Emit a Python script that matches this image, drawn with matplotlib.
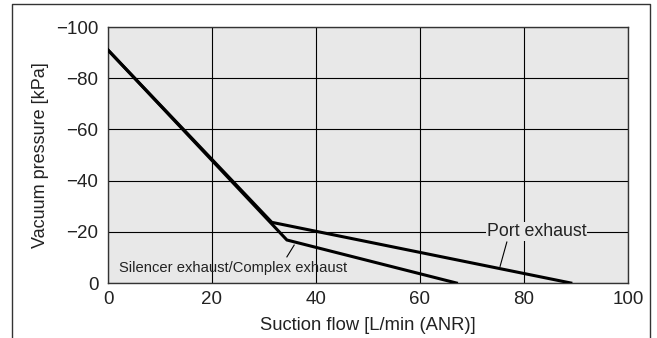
import matplotlib
matplotlib.use("Agg")
import matplotlib.pyplot as plt
from matplotlib.lines import Line2D

plt.rcParams['font.family'] = ['Liberation Sans', 'DejaVu Sans']

# curve data (suction flow L/min, vacuum pressure kPa)
port_flow = [0, 31.5, 89]
port_pressure = [-91, -23.7, 0]
silencer_flow = [0, 34.4, 67]
silencer_pressure = [-91, -16.8, 0]

x_ticks = [0, 20, 40, 60, 80, 100]
y_ticks = [0, -20, -40, -60, -80, -100]

fig = plt.figure(figsize=(6.57, 3.38), dpi=100)
ax = fig.add_axes([108 / 657, 1 - 283 / 338, 520 / 657, 256 / 338])
ax.set_facecolor('#e8e8e8')

ax.plot(port_flow, port_pressure, color='black', lw=2.2, solid_joinstyle='miter', zorder=3)
ax.plot(silencer_flow, silencer_pressure, color='black', lw=2.2, solid_joinstyle='miter', zorder=3)

ax.set_xlim(0, 100)
ax.set_ylim(0, -100)
ax.set_xticks(x_ticks)
ax.set_yticks(y_ticks)
ax.set_xticklabels([str(v) for v in x_ticks])
ax.set_yticklabels(['0' if v == 0 else '\u2212' + str(-v) for v in y_ticks])
ax.tick_params(axis='both', length=0, labelsize=13.5, colors='#222222')
ax.tick_params(axis='x', pad=6)
ax.tick_params(axis='y', pad=7)
ax.grid(True, color='black', lw=0.8)
for s in ax.spines.values():
    s.set_linewidth(1.0)
    s.set_color('#333333')

ax.set_xlabel('Suction flow [L/min (ANR)]', fontsize=13.2, labelpad=6, color='#222222')
ax.set_ylabel('Vacuum pressure [kPa]', fontsize=13, labelpad=5, color='#222222')

# annotations
ax.text(82.4, -20, 'Port exhaust', fontsize=12.8, ha='center', va='center', color='#222222',
        bbox=dict(boxstyle='square,pad=0.05', fc='#e8e8e8', ec='none'), zorder=4)
ax.plot([76.7, 75.4], [-16.0, -6.5], color='black', lw=0.8, zorder=4)
ax.text(24, -5.9, 'Silencer exhaust/Complex exhaust', fontsize=10.6, ha='center', va='center',
        color='#222222', zorder=4)
ax.plot([35.8, 34.4], [-14.8, -10.2], color='black', lw=0.8, zorder=4)

# outer frame
fx0, fx1, fy = 12 / 657, 650 / 657, 1 - 4 / 338
fig.add_artist(Line2D([fx0, fx0, fx1, fx1], [0, fy, fy, 0], color='#333333', lw=1.0))

fig.savefig('out.png', dpi=100)
